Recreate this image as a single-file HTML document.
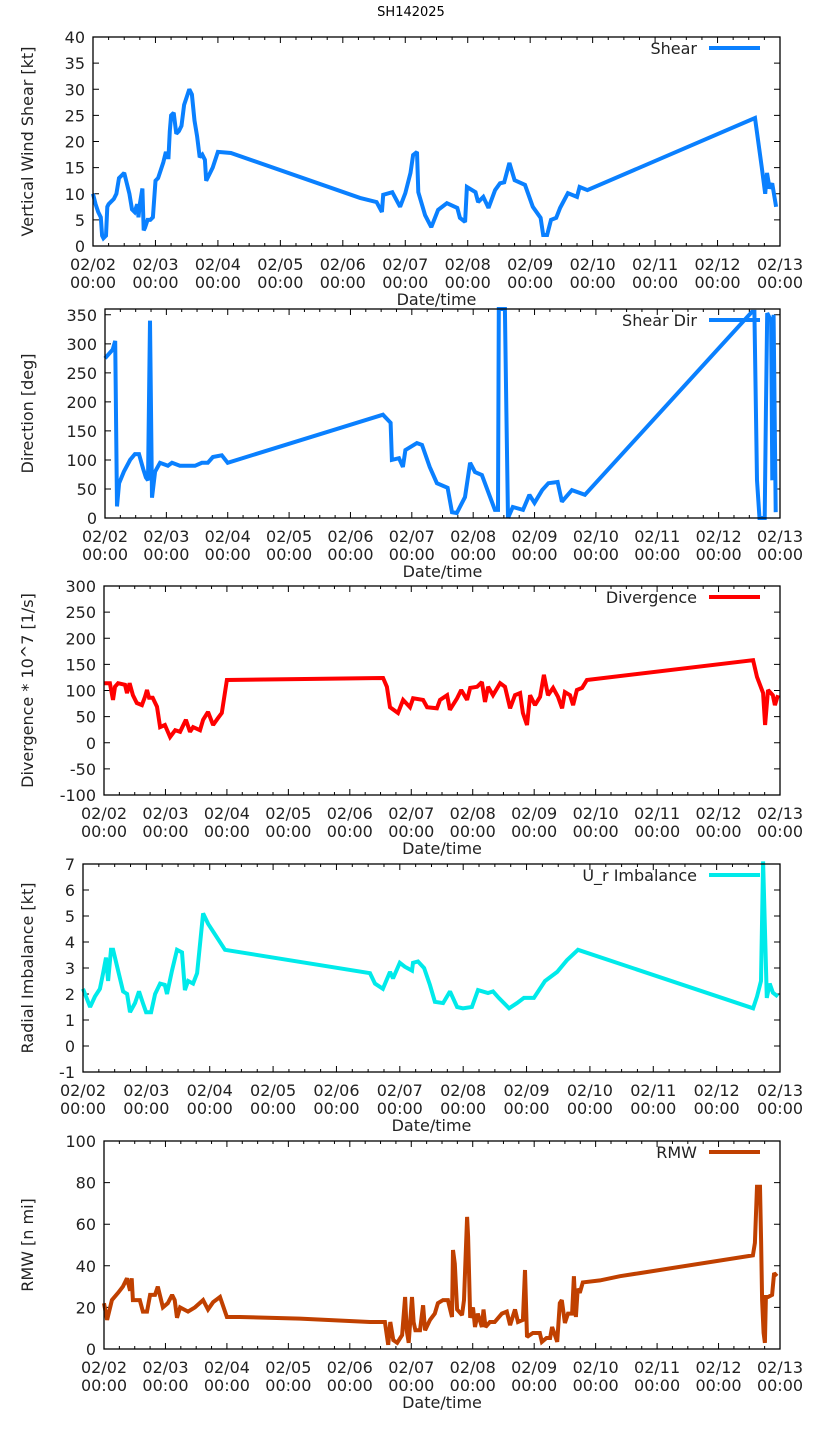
<!DOCTYPE html>
<html><head><meta charset="utf-8"><style>
html,body{margin:0;padding:0;background:#fff;}
svg{display:block;font-family:"DejaVu Sans","Liberation Sans",sans-serif;}
</style></head><body>
<svg id="chart" width="822" height="1440" viewBox="0 0 822 1440" xmlns="http://www.w3.org/2000/svg">
<text x="411" y="16" text-anchor="middle" font-size="13" fill="#000">SH142025</text>
</svg>
<script>
// x values are hours since 02/02 00:00
const xTickLabels1 = ["02/02","02/03","02/04","02/05","02/06","02/07","02/08","02/09","02/10","02/11","02/12","02/13"];
const xTickLabels2 = "00:00";

const shearHours = [0,1,2,3,3.5,4,5,5.5,6,7,8,9,10,11,12,13,14,15,16,17,17.5,18,19,19.5,20,21,22,23,24,25,26,27,28,28.5,29,29.5,30,31,32,33,34,35,36,37,38,39,40,41,42,43,43.5,44,46,48,53,102.6,109,111,111.5,115,118,120,122,123,124.5,125,127.6,130,132.6,136,140,141,143,143.7,147,148,150,152,154.5,156.4,158,160,162,166,169,172,173,174.5,176,178,179.5,182.5,186,187,190,254.4,257,258.3,259,260,261,262.5];
const shearValues = [10,8,6.5,5.5,2,1.5,2,7.5,8,8.5,9,10,13,13.5,14,12,10,7,6.5,8,5.5,8,11,3,3.5,5,5,5.5,12.5,13,14.5,16,18,17,17,22,25,25.5,21.5,22,23,27,28.5,30,29,24,21,17,17.5,16.5,12.5,13,15,18,17.8,9.2,8.4,6.5,9.8,10.3,7.5,10.1,14,17.4,18,10.3,5.9,3.6,6.9,8.2,7.3,5.4,4.6,11.3,10.3,8.4,9.4,7.3,10.7,12,12.2,15.9,12.6,11.7,7.5,5.4,2.1,2.1,5,5.4,7.3,10.1,9.4,11.3,10.7,24.5,15,10,14,11,12,7.5];

const dirHours = [0,3,4,4.7,5.5,7.4,9.8,11.7,13.3,14.9,16,16.8,17.6,18.4,19.6,21.5,24.6,26.2,29.3,35.2,37.9,40.2,42.2,45.7,48,108.7,111.7,112.2,115,116.5,117.5,122,124,127,129.8,134,135.7,137.6,140.8,142.8,144.7,147.4,150.6,152.5,153.7,154,156.4,157,157.6,159.5,163.5,166,168,171,173.4,177,178.7,182.6,187.7,253,254,255,256,258,258.5,259,260.5,261,261.5,262.3];
const dirValues = [275,290,305,20,60,80,100,110,110,85,70,65,340,35,80,95,90,95,90,90,95,95,105,108,95,178,164,100,103,88,117,129,126,88,60,52,10,8.6,36,95,79,74,36,14,14,360,360,181,0,19,14,40,26,48,60,62,28,48,40,355,355,65,0,0,181,353,340,65,350,10];

const divHours = [0,2.3,3.5,4.3,5.5,8.2,9,10,11.3,12.8,14.8,16,16.8,17.6,19,20.7,21.9,23.8,25.8,27.8,29.7,32,33.6,34.8,37.5,38.7,40.6,42.6,44.5,46,48,78.5,109,110.5,111.7,114.8,116.8,119.5,120.7,124.6,126.2,130,131.2,134,135.1,137.9,139.5,141.8,143,145.7,147.6,148.8,150,151.9,154.7,156.6,158.6,160.5,162.5,163.6,165.2,166.4,168.3,170.3,171.8,173.4,175.4,177.3,178.9,180,182,183.2,184.7,186.7,188.6,253.5,255,257.4,258.2,259.3,261.2,262,263.2];
const divValues = [114,114,82,107,114,111,95,114,91,76,72,88,101,86,86,69,30,34,11,24,21,44,21,30,24,44,59,34,47,57,120,122,124,107,68,57,82,68,85,82,68,66,82,91,63,85,101,82,105,107,116,78,107,91,114,107,66,91,95,57,34,91,72,88,130,91,105,88,66,97,91,72,101,105,120,158,126,95,34,101,91,72,91];

const imbHours = [0,2.7,4.5,6.4,7.6,8.7,9.5,10.6,11.4,13.3,15.2,16.7,17.8,19.7,21.2,22.7,23.9,25.8,27.3,29.2,31,31.8,33.7,35.6,37.5,38.6,39.8,41.7,43.2,45.5,47.4,53.8,108.7,110.6,113.6,116.3,117.4,120,121.9,124.6,125,126.9,129.2,131.4,133.3,136.4,139,141.7,143.9,147.3,149.6,153.4,155.3,157.5,161.4,164.4,167,170.8,175,179.6,183.3,187.5,253.8,255.3,256.8,257.6,258.3,259,260.1,261.3,263.2];
const imbValues = [2.2,1.5,1.9,2.2,2.8,3.4,2.5,3.7,3.7,2.9,2.1,2,1.3,1.65,2.1,1.65,1.3,1.3,2,2.4,2.35,2,2.9,3.7,3.6,2.15,2.5,2.4,2.8,5.1,4.7,3.7,2.8,2.4,2.2,2.85,2.6,3.2,3.05,2.9,3.2,3.25,3,2.35,1.7,1.65,2.1,1.5,1.45,1.5,2.15,2.04,2.1,1.85,1.45,1.65,1.85,1.85,2.5,2.85,3.3,3.7,1.45,1.9,2.5,7.1,4.4,1.85,2.4,2.05,1.9];

const rmwHours = [0,1.2,3.1,5.5,7.4,9,10.2,10.8,11.3,14,15.2,16.8,18,19.9,21,23,24.9,26.6,27.6,28.5,29.7,32.8,35.5,38.7,40.6,42.6,45.3,48,53,76.5,103.9,109.7,111,111.8,113,114.5,116.4,117.6,118.2,119,120.3,120.9,121.6,123.4,124.6,125.4,127.3,129.2,130.4,132.4,134.3,135.9,136.3,137,137.9,139.8,140.6,141.8,142.2,143,144.1,144.9,146,147.6,148.2,149,150.7,152.6,155.4,157.3,158.6,160.5,161.7,163.6,164.4,165.2,167.5,170.2,171,172.8,174.2,175,176.1,177,178,178.8,180,181.2,182.8,183.5,184.3,185,185.8,187,193.7,201.5,209.3,253.4,254.2,255,256.2,256.6,257,257.6,258.1,258.5,259.3,260.9,261.7,262.8];
const rmwValues = [22,14,23.5,27,30,34,28,34,23.5,23.5,18,18,26,26,30,20,22,26,23.5,15,20,18,20,23.5,19,22.5,25,15.4,15.4,14.6,13,13,2,13,4.3,3,6.7,25,9,3,25,13,9,9,21,9,14,17,22,23.5,23.5,15.4,47.6,41,19,16.3,23.5,63.5,54,15,20,10.6,17,10.6,19,10.6,13,13,17,18,11.5,19,13,14,38,5.8,7.7,7.7,3.4,5.3,5.3,10.6,6.7,3.4,22,23.5,12.5,17,17,35,15.4,29,27,32,33,35,36.5,45,51,78,78,52,23.5,7.7,3,25,25,26,36.5,35];

const svg = document.getElementById('chart');
const NS = 'http://www.w3.org/2000/svg';
function mk(tag, attrs, parent){
  const e = document.createElementNS(NS, tag);
  for (const k in attrs) e.setAttribute(k, attrs[k]);
  (parent||svg).appendChild(e);
  return e;
}

const panels = [
  {key:'shear', L:93, T:37, B:246, ymin:0, ymax:40, step:5, ytitle:'Vertical Wind Shear [kt]', legend:'Shear', color:'#0a80ff', xs:shearHours, ys:shearValues},
  {key:'direction', L:105, T:309, B:518, ymin:0, ymax:360, step:50, tmax:350, ytitle:'Direction [deg]', legend:'Shear Dir', color:'#0a80ff', xs:dirHours, ys:dirValues},
  {key:'divergence', L:104, T:586, B:795, ymin:-100, ymax:300, step:50, ytitle:'Divergence * 10^7 [1/s]', legend:'Divergence', color:'#ff0000', xs:divHours, ys:divValues},
  {key:'imbalance', L:83, T:864, B:1072, ymin:-1, ymax:7, step:1, ytitle:'Radial Imbalance [kt]', legend:'U_r Imbalance', color:'#00eaea', xs:imbHours, ys:imbValues},
  {key:'rmw', L:104, T:1141, B:1349, ymin:0, ymax:100, step:20, ytitle:'RMW [n mi]', legend:'RMW', color:'#c04000', xs:rmwHours, ys:rmwValues}
];
const R = 780, HOURS = 264;

panels.forEach(p => {
  const g = mk('g', {});
  
  
  const xS = h => p.L + (h / HOURS) * (R - p.L);
  const yS = v => p.B - (v - p.ymin) / (p.ymax - p.ymin) * (p.B - p.T);
  // ticks
  let d = '';
  for (let h = 0; h <= HOURS; h += 6) {
    const x = xS(h), len = (h % 24 === 0) ? 6 : 3;
    d += `M${x},${p.B}v${-len}M${x},${p.T}v${len}`;
  }
  const tmax = p.tmax !== undefined ? p.tmax : p.ymax;
  for (let v = p.ymin; v <= tmax + 1e-9; v += p.step) {
    const y = yS(v);
    d += `M${p.L},${y}h6M${R},${y}h-6`;
    const t = mk('text', {x:p.L-8, y:y+6, 'text-anchor':'end', 'font-size':16, fill:'#222'}, g);
    
    
    t.textContent = String(v);
  }
  const ticks = mk('path', {d:d, stroke:'#000', 'stroke-width':1, fill:'none'}, g);
  
  
  xTickLabels1.forEach((lab, i) => {
    const x = xS(i * 24);
    const t1 = mk('text', {x:x, y:p.B+24, 'text-anchor':'middle', 'font-size':16, fill:'#222'}, g);
    
    
    t1.textContent = lab;
    const t2 = mk('text', {x:x, y:p.B+42, 'text-anchor':'middle', 'font-size':16, fill:'#222'}, g);
    
    
    t2.textContent = xTickLabels2;
  });
  const xt = mk('text', {x:(p.L+R)/2, y:p.B+59, 'text-anchor':'middle', 'font-size':16, fill:'#222'}, g);
  
  
  xt.textContent = 'Date/time';
  const cy = (p.T + p.B) / 2;
  const yt = mk('text', {x:33, y:cy, 'text-anchor':'middle', 'font-size':16, fill:'#222', transform:`rotate(-90 33 ${cy})`}, g);
  
  
  yt.textContent = p.ytitle;
  // series
  let pd = '';
  p.xs.forEach((h, i) => { pd += (i ? 'L' : 'M') + xS(h).toFixed(1) + ',' + yS(p.ys[i]).toFixed(1); });
  const line = mk('path', {d:pd, stroke:p.color, 'stroke-width':4, fill:'none', 'stroke-linejoin':'miter', 'stroke-miterlimit':2}, g);
  
  
  // frame
  const fr = mk('rect', {x:p.L, y:p.T, width:R-p.L, height:p.B-p.T, fill:'none', stroke:'#000', 'stroke-width':1.3}, g);
  
  
  // legend
  const lt = mk('text', {x:697, y:p.T+17, 'text-anchor':'end', 'font-size':16, fill:'#222'}, g);
  
  
  lt.textContent = p.legend;
  const ll = mk('line', {x1:709, x2:760, y1:p.T+11, y2:p.T+11, stroke:p.color, 'stroke-width':4}, g);
  
  
});
</script>
</body></html>
